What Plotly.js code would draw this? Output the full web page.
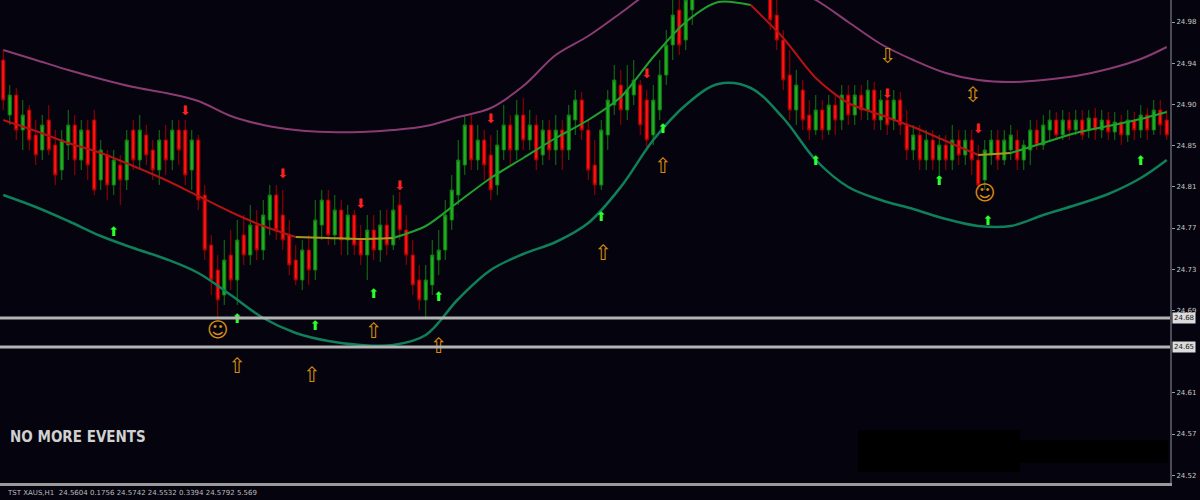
<!DOCTYPE html>
<html>
<head>
<meta charset="utf-8">
<script src="https://cdn.plot.ly/plotly-3.0.1.min.js"></script>
<style>html,body{margin:0;padding:0;background:#04030e;}#chart{width:1200px;height:500px;}</style>
</head>
<body>
<div id="chart"></div>
<script>
// ---- candle data (price) ----
const candleOpen = [
24.940,24.885,24.905,24.870,24.890,24.865,24.850,24.880,24.855,24.830,
24.855,24.875,24.840,24.870,24.880,24.820,24.845,24.815,24.835,24.820,
24.870,24.840,24.865,24.850,24.830,24.860,24.840,24.870,24.870,24.830,
24.860,24.805,24.755,24.730,24.705,24.745,24.720,24.765,24.745,24.775,
24.750,24.780,24.805,24.785,24.765,24.740,24.720,24.750,24.730,24.775,
24.800,24.765,24.790,24.760,24.785,24.760,24.745,24.770,24.750,24.775,
24.755,24.795,24.770,24.745,24.720,24.700,24.715,24.740,24.750,24.780,
24.805,24.835,24.875,24.840,24.860,24.845,24.815,24.850,24.875,24.850,
24.885,24.860,24.875,24.845,24.870,24.850,24.870,24.850,24.880,24.900,
24.870,24.835,24.815,24.865,24.895,24.915,24.890,24.905,24.915,24.900,
24.865,24.890,24.925,24.955,24.990,24.960,24.990,25.020,25.040,25.060,
25.045,25.070,25.055,25.075,25.050,25.060,25.040,25.030,25.010,24.985,
24.960,24.925,24.890,24.910,24.885,24.870,24.890,24.870,24.895,24.880,
24.905,24.885,24.905,24.890,24.910,24.880,24.900,24.880,24.900,24.875,
24.850,24.865,24.840,24.860,24.840,24.855,24.840,24.860,24.845,24.860,
24.840,24.820,24.845,24.860,24.840,24.850,24.860,24.840,24.850,24.870,
24.855,24.870,24.880,24.865,24.880,24.870,24.880,24.870,24.882,24.870,
24.880,24.868,24.878,24.865,24.880,24.870,24.885,24.870,24.890,24.880];
const candleHigh = [
24.950,24.915,24.912,24.900,24.895,24.880,24.885,24.895,24.870,24.870,
24.890,24.885,24.880,24.880,24.890,24.860,24.850,24.850,24.845,24.870,
24.880,24.885,24.875,24.860,24.870,24.875,24.880,24.880,24.880,24.870,
24.865,24.815,24.765,24.745,24.760,24.770,24.780,24.785,24.795,24.790,
24.800,24.815,24.815,24.810,24.780,24.755,24.760,24.765,24.800,24.810,
24.810,24.805,24.800,24.795,24.790,24.775,24.785,24.785,24.790,24.790,
24.805,24.808,24.785,24.760,24.735,24.735,24.760,24.770,24.800,24.825,
24.860,24.885,24.885,24.875,24.870,24.865,24.870,24.895,24.885,24.900,
24.902,24.890,24.885,24.880,24.880,24.885,24.880,24.895,24.910,24.908,
24.880,24.860,24.880,24.910,24.935,24.930,24.935,24.940,24.920,24.910,
24.915,24.940,24.970,25.000,25.000,25.020,25.040,25.060,25.075,25.070,
25.085,25.080,25.090,25.085,25.070,25.065,25.050,25.040,25.025,25.000,
24.970,24.950,24.930,24.920,24.900,24.905,24.900,24.905,24.905,24.915,
24.915,24.915,24.915,24.920,24.918,24.910,24.905,24.910,24.908,24.890,
24.875,24.875,24.870,24.870,24.865,24.865,24.875,24.870,24.870,24.870,
24.855,24.860,24.870,24.870,24.870,24.875,24.870,24.860,24.880,24.880,
24.885,24.890,24.888,24.890,24.888,24.890,24.890,24.890,24.892,24.890,
24.888,24.888,24.885,24.890,24.888,24.895,24.892,24.900,24.900,24.890];
const candleLow = [
24.890,24.875,24.860,24.850,24.850,24.835,24.840,24.845,24.815,24.820,
24.840,24.825,24.830,24.820,24.805,24.810,24.800,24.805,24.795,24.810,
24.830,24.830,24.835,24.820,24.815,24.825,24.830,24.835,24.815,24.810,
24.790,24.740,24.705,24.682,24.695,24.710,24.695,24.735,24.735,24.740,
24.740,24.765,24.760,24.750,24.725,24.715,24.710,24.715,24.720,24.760,
24.755,24.755,24.745,24.745,24.745,24.735,24.720,24.740,24.738,24.745,
24.750,24.760,24.735,24.705,24.690,24.682,24.705,24.725,24.740,24.770,
24.795,24.825,24.830,24.830,24.820,24.800,24.805,24.840,24.835,24.840,
24.850,24.850,24.830,24.835,24.840,24.835,24.830,24.840,24.865,24.860,
24.820,24.805,24.810,24.850,24.885,24.875,24.880,24.895,24.865,24.850,
24.855,24.880,24.915,24.940,24.945,24.950,24.975,25.010,25.030,25.035,
25.040,25.045,25.050,25.040,25.035,25.030,25.015,25.000,24.970,24.950,
24.910,24.880,24.875,24.870,24.860,24.865,24.860,24.865,24.865,24.870,
24.875,24.875,24.880,24.880,24.870,24.870,24.865,24.870,24.865,24.840,
24.840,24.830,24.830,24.830,24.825,24.830,24.830,24.835,24.835,24.825,
24.810,24.810,24.835,24.830,24.835,24.840,24.830,24.830,24.835,24.850,
24.850,24.860,24.860,24.860,24.860,24.865,24.860,24.862,24.860,24.862,
24.860,24.860,24.855,24.858,24.860,24.862,24.860,24.865,24.865,24.860];
const candleClose = [
24.900,24.905,24.870,24.885,24.860,24.845,24.875,24.850,24.825,24.860,
24.875,24.840,24.870,24.835,24.810,24.850,24.815,24.840,24.820,24.860,
24.840,24.870,24.845,24.830,24.860,24.840,24.870,24.850,24.825,24.860,
24.800,24.750,24.720,24.700,24.740,24.720,24.760,24.745,24.775,24.750,
24.785,24.805,24.770,24.760,24.735,24.720,24.750,24.730,24.780,24.800,
24.765,24.790,24.760,24.785,24.755,24.745,24.770,24.750,24.775,24.755,
24.790,24.770,24.745,24.715,24.700,24.720,24.745,24.750,24.785,24.810,
24.840,24.875,24.840,24.860,24.835,24.810,24.855,24.875,24.850,24.885,
24.860,24.875,24.840,24.870,24.850,24.870,24.850,24.885,24.900,24.870,
24.830,24.815,24.870,24.900,24.920,24.890,24.910,24.920,24.875,24.860,
24.900,24.925,24.955,24.985,24.955,25.000,25.020,25.040,25.060,25.045,
25.070,25.055,25.075,25.050,25.060,25.040,25.030,25.010,24.980,24.960,
24.920,24.890,24.915,24.880,24.870,24.890,24.870,24.895,24.880,24.905,
24.885,24.905,24.890,24.910,24.880,24.900,24.875,24.900,24.875,24.850,
24.865,24.840,24.860,24.840,24.855,24.840,24.860,24.845,24.860,24.840,
24.815,24.850,24.860,24.840,24.860,24.865,24.840,24.855,24.870,24.855,
24.875,24.880,24.865,24.880,24.870,24.880,24.865,24.882,24.870,24.880,
24.868,24.878,24.865,24.880,24.870,24.885,24.870,24.890,24.875,24.865];

// ---- band indicator data (bar index, price) ----
const bandIndex = [0,5,10,15,20,25,30,35,40,45,50,55,60,65,70,75,80,85,90,95,100,105,110,115,120,125,130,135,140,145,150,155,160,165,170,175,179];
const upperBand = [24.950,24.940,24.930,24.921,24.913,24.907,24.899,24.884,24.875,24.870,24.868,24.868,24.870,24.874,24.883,24.892,24.914,24.945,24.964,24.987,25.010,25.022,25.028,25.025,25.015,25.000,24.978,24.956,24.940,24.927,24.920,24.918,24.920,24.924,24.931,24.941,24.953];
const lowerBand = [24.805,24.793,24.779,24.764,24.752,24.741,24.727,24.705,24.682,24.667,24.659,24.655,24.655,24.665,24.701,24.730,24.746,24.758,24.777,24.813,24.860,24.895,24.916,24.912,24.882,24.840,24.813,24.800,24.791,24.781,24.774,24.774,24.785,24.795,24.806,24.822,24.840];
const midBand = [24.880,24.869,24.857,24.847,24.834,24.820,24.804,24.788,24.774,24.763,24.762,24.761,24.762,24.774,24.798,24.822,24.842,24.862,24.880,24.903,24.943,24.978,24.998,24.995,24.962,24.922,24.897,24.885,24.873,24.859,24.845,24.847,24.857,24.867,24.874,24.881,24.888];
const midTrend = ['down','down','down','down','down','down','down','down','down','flat','flat','flat','up','up','up','up','up','up','up','up','up','up','up','down','down','down','down','down','down','down','flat','up','up','up','up','up','up'];

// ---- signals ----
const sellIndex = [28,43,55,61,75,99,136,150];
const sellPrice = [24.888,24.825,24.795,24.813,24.880,24.925,24.905,24.870];
const buyIndex = [17,36,48,57,67,92,101.5,125,144,151.5,175];
const buyPrice = [24.767,24.680,24.673,24.705,24.702,24.782,24.870,24.838,24.818,24.778,24.838];
const eventIndex = [36,47.5,57,67,92.3,101.5,136.1,149.2,33,151];
const eventPrice = [24.632,24.623,24.667,24.652,24.745,24.832,24.942,24.903,24.668,24.805];
const eventGlyph = ['⇧','⇧','⇧','⇧','⇧','⇧','⇩','⇳','☺','☺'];

// ---- levels & axis labels ----
const levelPrice = [24.682,24.653];
const levelLabel = ['24.68','24.65'];
const tickVals = [24.978,24.9368,24.8956,24.8544,24.8132,24.772,24.7308,24.6896,24.6072,24.566,24.5248];
const tickText = ['24.98','24.94','24.90','24.85','24.81','24.77','24.73','24.69','24.61','24.57','24.52'];
const statusText = 'TST XAUS,H1  24.5604 0.1756 24.5742 24.5532 0.3394 24.5792 5.569';
const noteText = 'NO MORE EVENTS';

const barIndex = candleOpen.map((_, i) => i);
const traces = [];
traces.push({
  type: 'candlestick', x: barIndex,
  open: candleOpen, high: candleHigh, low: candleLow, close: candleClose,
  increasing: {line: {color: '#127a12', width: 1}, fillcolor: '#22b022'},
  decreasing: {line: {color: '#a30000', width: 1}, fillcolor: '#ff1414'},
  whiskerwidth: 0, hoverinfo: 'none'
});
traces.push({type: 'scatter', mode: 'lines', x: bandIndex, y: upperBand,
  line: {color: '#8a3c72', width: 2, shape: 'spline', smoothing: 1}, hoverinfo: 'none'});
traces.push({type: 'scatter', mode: 'lines', x: bandIndex, y: lowerBand,
  line: {color: '#0f8059', width: 2.5, shape: 'spline', smoothing: 1}, hoverinfo: 'none'});

const trendColor = {down: '#b51212', flat: '#a89a1e', up: '#1fa22c'};
let start = 0;
for (let i = 1; i < bandIndex.length; i++) {
  const endRun = (i === bandIndex.length - 1) || (midTrend[i] !== midTrend[start]);
  if (endRun) {
    traces.push({type: 'scatter', mode: 'lines',
      x: bandIndex.slice(start, i + 1), y: midBand.slice(start, i + 1),
      line: {color: trendColor[midTrend[start]], width: 2, shape: 'spline', smoothing: 0.8}, hoverinfo: 'none'});
    start = i;
  }
}
traces.push({type: 'scatter', mode: 'text', x: sellIndex, y: sellPrice,
  text: sellIndex.map(() => '⬇'), textfont: {color: '#ff2020', size: 13, family: 'DejaVu Sans'},
  textposition: 'middle center', hoverinfo: 'none'});
traces.push({type: 'scatter', mode: 'text', x: buyIndex, y: buyPrice,
  text: buyIndex.map(() => '⬆'), textfont: {color: '#2cff2c', size: 13, family: 'DejaVu Sans'},
  textposition: 'middle center', hoverinfo: 'none'});
traces.push({type: 'scatter', mode: 'text', x: eventIndex, y: eventPrice,
  text: eventGlyph, textfont: {color: '#d98c12', size: 21, family: 'DejaVu Sans'},
  textposition: 'middle center', hoverinfo: 'none'});

const shapes = levelPrice.map(p => ({type: 'line', xref: 'paper', yref: 'y', x0: 0, x1: 1, y0: p, y1: p,
  line: {color: '#b4b4b4', width: 3}}));
shapes.push({type: 'rect', xref: 'paper', yref: 'paper', x0: 0.7333, x1: 0.8718, y0: 0.0228, y1: 0.1097,
  fillcolor: '#000000', line: {width: 0}});
shapes.push({type: 'rect', xref: 'paper', yref: 'paper', x0: 0.8718, x1: 0.998, y0: 0.0414, y1: 0.089,
  fillcolor: '#000000', line: {width: 0}});

const annotations = levelPrice.map((p, k) => ({xref: 'paper', yref: 'y', x: 1, y: p, xanchor: 'left', xshift: 2,
  text: levelLabel[k], showarrow: false, bgcolor: '#dcdcdc', borderpad: 1,
  font: {size: 7, color: '#202020', family: 'DejaVu Sans'}}));
annotations.push({xref: 'paper', yref: 'paper', x: 0.007, y: 0.0952, xanchor: 'left', yanchor: 'middle',
  text: noteText, showarrow: false,
  font: {size: 15, color: '#d0d0d0', family: 'Liberation Sans Narrow, DejaVu Sans Condensed, sans-serif', weight: 'bold'}});
annotations.push({xref: 'paper', yref: 'paper', x: 0.004, y: -0.021, xanchor: 'left', yanchor: 'middle',
  text: statusText, showarrow: false, font: {size: 7, color: '#bdbdbd', family: 'DejaVu Sans'}});

const layout = {
  width: 1200, height: 500,
  margin: {l: 0, r: 30, t: 0, b: 17, pad: 0},
  paper_bgcolor: '#04030e', plot_bgcolor: '#04030e',
  showlegend: false,
  xaxis: {range: [-0.5, 179.5], rangeslider: {visible: false}, showgrid: false, zeroline: false,
    showticklabels: false, ticks: '', showline: true, linecolor: '#9a9a9a', linewidth: 3},
  yaxis: {side: 'right', range: [24.517, 25.0], tickmode: 'array', tickvals: tickVals, ticktext: tickText,
    ticks: 'outside', ticklen: 3, tickcolor: '#9a9a9a', showgrid: false, zeroline: false,
    showline: true, mirror: true, linecolor: '#4c4c56', linewidth: 2,
    tickfont: {size: 7, color: '#c8c8c8', family: 'DejaVu Sans'}},
  shapes: shapes, annotations: annotations
};
Plotly.newPlot('chart', traces, layout, {staticPlot: true, displayModeBar: false});
</script>
</body>
</html>
